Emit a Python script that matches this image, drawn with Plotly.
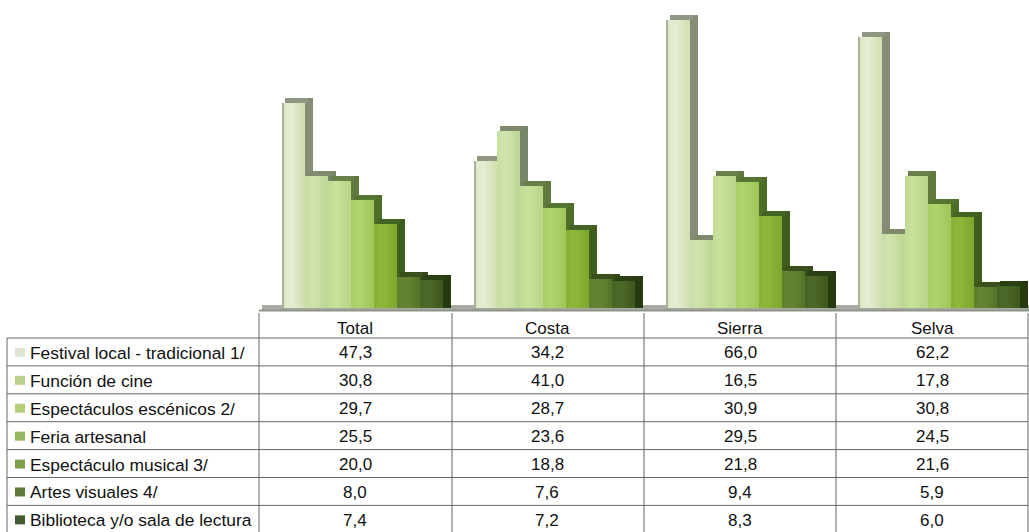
import plotly.graph_objects as go

W, H = 1029, 532
categories = ["Total", "Costa", "Sierra", "Selva"]
series = ["Festival local - tradicional 1/", "Función de cine", "Espectáculos escénicos 2/",
          "Feria artesanal", "Espectáculo musical 3/", "Artes visuales 4/", "Biblioteca y/o sala de lectura"]
festival = [47.3, 34.2, 66.0, 62.2]
cine = [30.8, 41.0, 16.5, 17.8]
escenicos = [29.7, 28.7, 30.9, 30.8]
feria = [25.5, 23.6, 29.5, 24.5]
musical = [20.0, 18.8, 21.8, 21.6]
visuales = [8.0, 7.6, 9.4, 5.9]
biblioteca = [7.4, 7.2, 8.3, 6.0]
values = [festival, cine, escenicos, feria, musical, visuales, biblioteca]

front = ["#d3e0b4", "#c0d896", "#bad688", "#a0c85c", "#7fa92f", "#56762a", "#3f5a1c"]
light = ["#e4eed4", "#d0e4b0", "#c8e09c", "#b0d470", "#8fb93c", "#668636", "#4e6a28"]
side = ["#858d74", "#76866a", "#5f7a3c", "#4e6e28", "#3f5e1c", "#33491a", "#263a10"]
top = ["#8f9784", "#7f8a6c", "#6a7f4a", "#567530", "#456322", "#38501c", "#2b4012"]
legend_colors = ["#dfe5d3", "#bcd08e", "#b4cf78", "#94b860", "#7f9f48", "#5f7a38", "#455a30"]

base_y = 308
px_per_unit = 4.44
plot_left, plot_right = 259, 1028
cat_px = (plot_right - plot_left) / 4
bar_px = 23.0
depth_px = 8.0
top_px = 5.0
strips = 6
dx = 1 / cat_px
group_start = -0.5 + (282 - plot_left) / cat_px


def lerp(a, b, t):
    ca = [int(a[i:i + 2], 16) for i in (1, 3, 5)]
    cb = [int(b[i:i + 2], 16) for i in (1, 3, 5)]
    return "#%02x%02x%02x" % tuple(round(p + (q - p) * t) for p, q in zip(ca, cb))


fig = go.Figure()
top_val = top_px / px_per_unit
for i, (name, vals) in enumerate(zip(series, values)):
    left = group_start + i * bar_px * dx
    w = bar_px * dx
    front_vals = [v - top_val for v in vals]
    # back/side face reaches the value
    fig.add_trace(go.Bar(x=categories, y=vals, width=w, offset=left + depth_px * dx, name=name,
                         marker=dict(color=side[i], line_width=0), showlegend=False))
    # top face
    fig.add_trace(go.Bar(x=categories, y=[top_val] * 4, base=front_vals, width=w, offset=left + 3 * dx,
                         marker=dict(color=top[i], line_width=0), showlegend=False, hoverinfo="skip"))
    # front face, shaded in vertical strips
    sw = w / strips
    for s in range(strips):
        t = abs(s / (strips - 1) - 0.3) / 0.7
        fig.add_trace(go.Bar(x=categories, y=front_vals, width=sw * 1.05, offset=left + s * sw,
                             marker=dict(color=lerp(light[i], front[i], t), line_width=0),
                             showlegend=False, hoverinfo="skip"))
    if i == 0:
        fig.add_trace(go.Bar(x=categories, y=front_vals, width=1.5 * dx, offset=left,
                             marker=dict(color="#a9b09c", line_width=0), showlegend=False, hoverinfo="skip"))

shapes = []
annotations = []


def yp(p):
    return 1 - p / H


def xp(p):
    return p / W


def line(x0, y0, x1, y1, color="#666666", width=1):
    shapes.append(dict(type="line", xref="paper", yref="paper", x0=xp(x0), x1=xp(x1), y0=yp(y0), y1=yp(y1),
                       line=dict(color=color, width=width)))


header_top = 313
first_line = 338
row_h = 27.9
col_lines = [259, 452, 644, 836, 1028]
col_centers = [355, 547, 740, 932]

# floor
shapes.append(dict(type="rect", xref="paper", yref="paper", x0=xp(262), x1=xp(1029), y0=yp(311), y1=yp(305),
                   fillcolor="#a9aaa4", line_width=0, layer="below"))
line(259, 310.5, 1029, 310.5, "#8f9488", 2)
# grid
for x in col_lines:
    line(x, header_top, x, H)
for r in range(7):
    line(7, first_line + r * row_h, 1028, first_line + r * row_h)
line(7, first_line, 7, H)

font = dict(family="Liberation Sans", size=17, color="#111111")
label_font = dict(family="Liberation Sans", size=17.4, color="#111111")
for c, cat in enumerate(categories):
    annotations.append(dict(x=xp(col_centers[c]), y=yp(328.5), xref="paper", yref="paper", text=cat, showarrow=False,
                            font=font, xanchor="center", yanchor="middle"))
for r, (name, vals) in enumerate(zip(series, values)):
    cy = first_line + (r + 0.5) * row_h
    shapes.append(dict(type="rect", xref="paper", yref="paper", x0=xp(15), x1=xp(25), y0=yp(cy - 4), y1=yp(cy + 5),
                       fillcolor=legend_colors[r], line_width=0))
    annotations.append(dict(x=xp(28), y=yp(cy + 1), xref="paper", yref="paper", text=name, showarrow=False,
                            font=label_font, xanchor="left", yanchor="middle"))
    for c, v in enumerate(vals):
        annotations.append(dict(x=xp(col_centers[c]), y=yp(cy + 1), xref="paper", yref="paper",
                                text=f"{v:.1f}".replace(".", ","), showarrow=False,
                                font=font, xanchor="center", yanchor="middle"))

fig.update_layout(
    width=W, height=H, margin=dict(l=0, r=0, t=0, b=0), barmode="overlay", bargap=0,
    paper_bgcolor="white", plot_bgcolor="white", shapes=shapes, annotations=annotations,
    xaxis=dict(domain=[plot_left / W, plot_right / W], visible=False, type="category", range=[-0.5, 3.5]),
    yaxis=dict(domain=[1 - base_y / H, 1], visible=False, range=[0, base_y / px_per_unit]),
)
fig.write_html("out.html", config={"displayModeBar": False}, post_script="document.body.style.margin='0';")
